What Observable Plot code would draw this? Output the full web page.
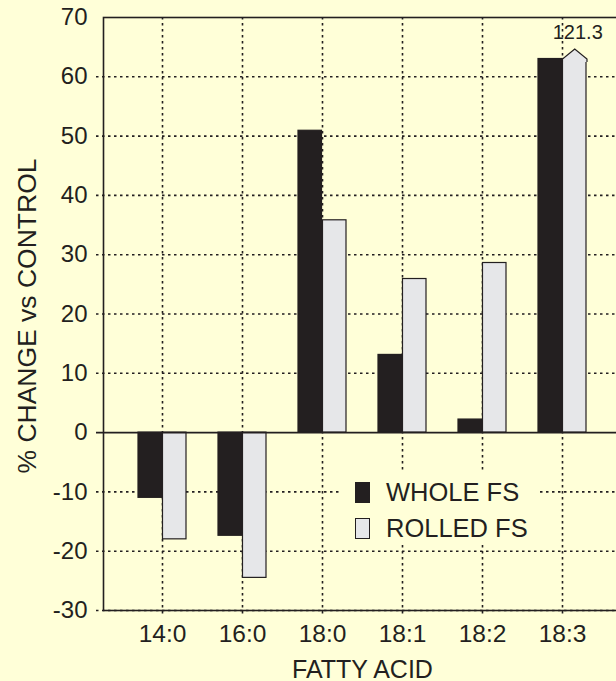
<!DOCTYPE html>
<html><head><meta charset="utf-8">
<script src="https://cdn.jsdelivr.net/npm/d3@7"></script>
<script src="https://cdn.jsdelivr.net/npm/@observablehq/plot@0.6"></script>
<style>
html,body{margin:0;padding:0;background:#ffffd8;overflow:hidden;width:616px;height:681px;}
#wrap{position:relative;width:616px;height:681px;overflow:hidden;background:#ffffd8;}
#wrap svg{display:block;max-width:none !important;}
.legend{position:absolute;left:340px;top:470px;width:197px;height:73px;box-sizing:border-box;padding:4px 0 0 15px;background:#ffffd8;font-family:"Liberation Sans",Arial,sans-serif;font-size:25.5px;color:#231f20;}
.legend .item{display:flex;align-items:center;height:36px;white-space:nowrap;}
.legend .sw{width:15px;height:21px;box-sizing:border-box;border:1.3px solid #231f20;margin-right:16px;flex:none;}
</style></head><body><div id="wrap"></div>
<script>
const categories = ["14:0", "16:0", "18:0", "18:1", "18:2", "18:3"];
const seriesNames = ["WHOLE FS", "ROLLED FS"];
const wholeFS = [-11, -17.4, 50.9, 13.1, 2.2, 63];
const rolledFS = [-18, -24.5, 35.8, 25.9, 28.6, 121.3];
const yTicks = [-30, -20, -10, 0, 10, 20, 30, 40, 50, 60, 70];
const seriesColors = ["#231f20", "#e6e7e9"];
const axisBreak = 63; // off-scale bars are cut at this level

const yMin = -30, yMax = 70;
const rows = categories.flatMap((c, i) => [
  {cat: c, series: seriesNames[0], value: wholeFS[i]},
  {cat: c, series: seriesNames[1], value: rolledFS[i]}
]);
const shown = v => (v > yMax ? axisBreak : v);
const broken = rows.filter(d => d.value > yMax);

const W = 622, mL = 103, mR = 1, mT = 17, mB = 71;
const pInner = 0.394, pOuter = 0.402;
const step = (W - mL - mR) / (categories.length - pInner + 2 * pOuter);
const half = step * (1 - pInner) / 2;
const ink = "#231f20";

const tipSymbol = {
  draw(ctx) {
    const w = half / 2, h = 10;
    ctx.moveTo(-w, 3);
    ctx.lineTo(-w, 0);
    ctx.lineTo(0, -h);
    ctx.lineTo(w, 0);
    ctx.lineTo(w, 3);
  }
};

const chart = Plot.plot({
  width: W, height: 681,
  marginLeft: mL, marginRight: mR, marginTop: mT, marginBottom: mB,
  style: {background: "#ffffd8", fontFamily: "'Liberation Sans', Arial, sans-serif", fontSize: "24px", color: ink, maxWidth: "none"},
  x: {type: "band", domain: categories, paddingInner: pInner, paddingOuter: pOuter, align: 0.5},
  y: {domain: [yMin, yMax]},
  marks: [
    Plot.ruleY(yTicks.filter(t => t > yMin && t < yMax && t !== 0), {stroke: ink, strokeWidth: 1.6, strokeDasharray: "2.5,3.5", insetLeft: -7}),
    Plot.ruleY([yMin], {stroke: ink, strokeWidth: 1.6, strokeDasharray: "2.5,3.5", insetLeft: -7}),
    Plot.ruleX(categories, {x: d => d, stroke: ink, strokeWidth: 1.6, strokeDasharray: "2.5,3.5", insetBottom: -6}),
    Plot.barY(rows.filter(d => d.series === seriesNames[0]), {x: "cat", y: d => shown(d.value), fill: seriesColors[0], stroke: ink, strokeWidth: 1.2, insetRight: half}),
    Plot.barY(rows.filter(d => d.series === seriesNames[1]), {x: "cat", y: d => shown(d.value), fill: seriesColors[1], stroke: ink, strokeWidth: 1.2, insetLeft: half}),
    Plot.dot(broken, {x: "cat", y: () => axisBreak, symbol: tipSymbol, fill: seriesColors[1], stroke: ink, strokeWidth: 1.2, dx: half / 2}),
    Plot.text(broken, {x: "cat", y: () => axisBreak, text: d => d.value.toFixed(1), dx: half / 2 + 3, dy: -26, fontSize: 20, fill: ink}),
    Plot.ruleY([0], {stroke: ink, strokeWidth: 1.6, insetLeft: -7}),
    Plot.frame({stroke: ink, strokeWidth: 1.6}),
    Plot.axisY({ticks: yTicks, tickFormat: d => String(d), tickSize: 0, tickPadding: 16, label: null, fontSize: 24}),
    Plot.axisX({tickSize: 0, tickPadding: 14, label: null, fontSize: 24.5}),
    Plot.text(["FATTY ACID"], {frameAnchor: "bottom", dy: 67, fontSize: 25, fill: ink}),
    Plot.text(["% CHANGE vs CONTROL"], {frameAnchor: "left", textAnchor: "middle", dx: -76, dy: 2, rotate: -90, fontSize: 26.5, fill: ink})
  ]
});
const wrap = document.getElementById("wrap");
wrap.appendChild(chart);

const legend = document.createElement("div");
legend.className = "legend";
seriesNames.forEach((name, i) => {
  const item = document.createElement("div");
  item.className = "item";
  const sw = document.createElement("span");
  sw.className = "sw";
  sw.style.background = seriesColors[i];
  item.appendChild(sw);
  item.appendChild(document.createTextNode(name));
  legend.appendChild(item);
});
wrap.appendChild(legend);
</script>
</body></html>
